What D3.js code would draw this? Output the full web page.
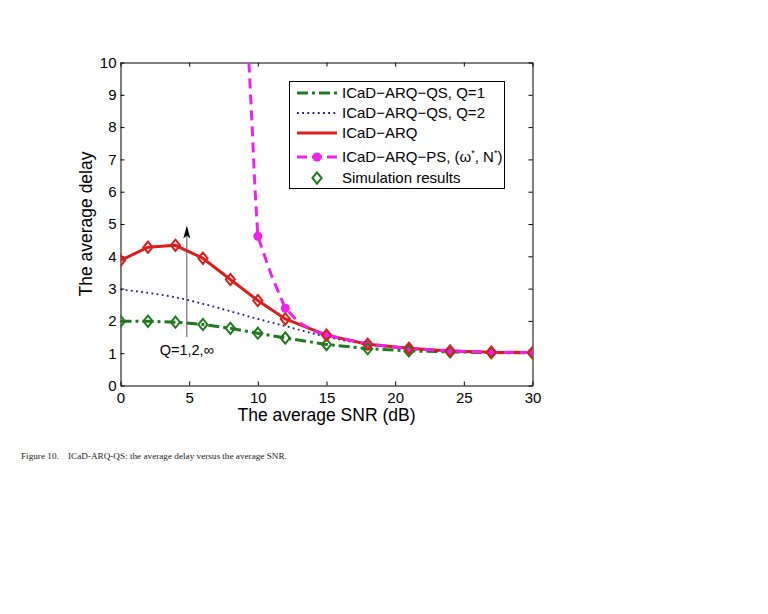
<!DOCTYPE html>
<html><head><meta charset="utf-8">
<script src="https://cdn.jsdelivr.net/npm/d3@7"></script>
<style>body{margin:0;background:#fff;}svg{display:block;font-family:"Liberation Sans",Arial,sans-serif;}</style>
</head><body>
<svg id="c" width="768" height="614"></svg>
<script>
// ---- data ----
const xTicks = [0,5,10,15,20,25,30];
const yTicks = [0,1,2,3,4,5,6,7,8,9,10];
const snr = [0,2,4,6,8,10,12,15,18,21,24,27,30];
const delayICaD = [3.87,4.28,4.34,3.94,3.28,2.63,2.06,1.56,1.28,1.15,1.07,1.03,1.02];
const delayQ1 = [1.99,1.99,1.96,1.89,1.77,1.62,1.47,1.27,1.14,1.07,1.04,1.02,1.01];
const snrQ2 = [0,2,4,6,8,10,12,14,16,18,20,22,24,27,30];
const delayQ2 = [2.97,2.87,2.73,2.53,2.30,2.06,1.84,1.61,1.42,1.27,1.17,1.10,1.06,1.03,1.01];
const snrPS = [9.35,9.57,9.79,10,11,12,13,14,15,18,21,24,27,30];
const delayPS = [10,8.15,6.1,4.62,3.4,2.39,1.95,1.7,1.56,1.28,1.15,1.07,1.03,1.02];
const snrPSMarkers = [10,12,15,18,21,24,27,30];
const legendLabels = ["ICaD\u2212ARQ\u2212QS, Q=1","ICaD\u2212ARQ\u2212QS, Q=2","ICaD\u2212ARQ","ICaD\u2212ARQ\u2212PS, (","Simulation results"];
const annotation = {snr:4.83, from:1.5, to:4.95, text:"Q=1,2,\u221E"};
const caption = "Figure 10.\u00A0\u00A0\u00A0\u00A0ICaD-ARQ-QS: the average delay versus the average SNR.";

// ---- styles ----
const GREEN = "#1f7a1f", RED = "#dd1c1c", MAG = "#ee22ee", BLUE = "#1a1a80";

const svg = d3.select("#c");
const x = d3.scaleLinear([0,30],[120.5,532.5]);
const y = d3.scaleLinear([0,10],[385.5,62.5]);

// axes (MATLAB style: inward ticks, full box)
const fs = "15px";
const ax = (g)=>{g.selectAll("text").attr("font-size",fs).attr("fill","#000").attr("font-family","Liberation Sans, Arial, sans-serif");
  g.selectAll("path,line").attr("stroke","#000");};
svg.append("g").attr("transform",`translate(0,${y(0)})`)
  .call(d3.axisBottom(x).tickValues(xTicks).tickSize(-4).tickSizeOuter(0).tickPadding(7)).call(ax);
svg.append("g").attr("transform",`translate(${x(0)},0)`)
  .call(d3.axisLeft(y).tickValues(yTicks).tickSize(-4).tickSizeOuter(0).tickPadding(4)).call(ax);
svg.append("g").attr("transform",`translate(0,${y(10)})`)
  .call(d3.axisTop(x).tickValues(xTicks).tickSize(-4).tickSizeOuter(0).tickFormat("")).call(ax);
svg.append("g").attr("transform",`translate(${x(30)},0)`)
  .call(d3.axisRight(y).tickValues(yTicks).tickSize(-4).tickSizeOuter(0).tickFormat("")).call(ax);
svg.selectAll(".domain").attr("stroke-width",1);

// axis labels
svg.append("text").attr("x",(x(0)+x(30))/2).attr("y",421).attr("text-anchor","middle")
  .attr("font-size","17.5px").text("The average SNR (dB)");
svg.append("text").attr("transform",`translate(92,${(y(0)+y(10))/2}) rotate(-90)`).attr("text-anchor","middle")
  .attr("font-size","17.5px").text("The average delay");

svg.append("defs").append("clipPath").attr("id","clip").append("rect")
  .attr("x",x(0)).attr("y",y(10)).attr("width",x(30)-x(0)).attr("height",y(0)-y(10));
const plot = svg.append("g").attr("clip-path","url(#clip)");

const line = d3.line().x(d=>x(d[0])).y(d=>y(d[1]));
const zip = (a,b)=>a.map((v,i)=>[v,b[i]]);
const curve = d3.line().x(d=>x(d[0])).y(d=>y(d[1])).curve(d3.curveMonotoneX);

plot.append("path").datum(zip(snr,delayQ1)).attr("d",line).attr("fill","none")
  .attr("stroke",GREEN).attr("stroke-width",3).attr("stroke-dasharray","11,4,3,4");
plot.append("path").datum(zip(snrQ2,delayQ2)).attr("d",curve).attr("fill","none")
  .attr("stroke",BLUE).attr("stroke-width",1.8).attr("stroke-dasharray","1.8,3.4");
plot.append("path").datum(zip(snr,delayICaD)).attr("d",line).attr("fill","none")
  .attr("stroke",RED).attr("stroke-width",3);
plot.append("path").datum(zip(snrPS,delayPS)).attr("d",line).attr("fill","none")
  .attr("stroke",MAG).attr("stroke-width",3).attr("stroke-dasharray","10,6");

const psPts = zip(snrPS,delayPS).filter(d=>snrPSMarkers.includes(d[0]));
plot.selectAll("circle.ps").data(psPts).join("circle").attr("class","ps")
  .attr("cx",d=>x(d[0])).attr("cy",d=>y(d[1])).attr("r",4.5).attr("fill",MAG);

const diamond = {draw(ctx,size){const w=4.6,h=5.6;ctx.moveTo(0,-h);ctx.lineTo(w,0);ctx.lineTo(0,h);ctx.lineTo(-w,0);ctx.closePath();}};
const sym = d3.symbol().type(diamond);
plot.selectAll("path.dq").data(zip(snr,delayQ1)).join("path").attr("class","dq")
  .attr("transform",d=>`translate(${x(d[0])},${y(d[1])})`).attr("d",sym).attr("fill","none")
  .attr("stroke",GREEN).attr("stroke-width",2);
plot.selectAll("path.dr").data(zip(snr,delayICaD)).join("path").attr("class","dr")
  .attr("transform",d=>`translate(${x(d[0])},${y(d[1])})`).attr("d",sym).attr("fill","none")
  .attr("stroke",RED).attr("stroke-width",2);

// annotation arrow
const ax0 = x(annotation.snr);
svg.append("line").attr("x1",ax0).attr("x2",ax0).attr("y1",y(annotation.from)).attr("y2",y(annotation.to)+8)
  .attr("stroke","#555").attr("stroke-width",1);
svg.append("path").attr("d",`M${ax0},${y(annotation.to)} L${ax0+3.5},${y(annotation.to)+13} L${ax0},${y(annotation.to)+10} L${ax0-3.5},${y(annotation.to)+13} Z`).attr("fill","#000");
svg.append("text").attr("x",ax0).attr("y",y(annotation.from)+18).attr("text-anchor","middle")
  .attr("font-size","14.5px").text(annotation.text);

// legend
const lg = svg.append("g");
lg.append("rect").attr("x",289.5).attr("y",81.5).attr("width",215).attr("height",107).attr("fill","#fff").attr("stroke","#000");
const rows = [93,113,133,157,178];
const lx0=297, lx1=337, tx=342;
lg.append("line").attr("x1",lx0).attr("x2",lx1).attr("y1",rows[0]).attr("y2",rows[0]).attr("stroke",GREEN).attr("stroke-width",3).attr("stroke-dasharray","11,4,3,4");
lg.append("line").attr("x1",lx0).attr("x2",lx1).attr("y1",rows[1]).attr("y2",rows[1]).attr("stroke",BLUE).attr("stroke-width",1.8).attr("stroke-dasharray","1.8,3.4");
lg.append("line").attr("x1",lx0).attr("x2",lx1).attr("y1",rows[2]).attr("y2",rows[2]).attr("stroke",RED).attr("stroke-width",3);
lg.append("line").attr("x1",lx0).attr("x2",lx1).attr("y1",rows[3]).attr("y2",rows[3]).attr("stroke",MAG).attr("stroke-width",3).attr("stroke-dasharray","10,5");
lg.append("circle").attr("cx",(lx0+lx1)/2).attr("cy",rows[3]).attr("r",4.5).attr("fill",MAG);
lg.append("path").attr("transform",`translate(${(lx0+lx1)/2},${rows[4]})`).attr("d",sym).attr("fill","none").attr("stroke",GREEN).attr("stroke-width",2);
rows.forEach((r,i)=>{
  const t = lg.append("text").attr("x",tx).attr("y",r+5).attr("font-size","15px");
  if(i===3){
    t.text(legendLabels[3]);
    t.append("tspan").text("\u03C9");
    t.append("tspan").attr("dy",-6).attr("font-size","9px").text("*");
    t.append("tspan").attr("dy",6).text(", N");
    t.append("tspan").attr("dy",-6).attr("font-size","9px").text("*");
    t.append("tspan").attr("dy",6).text(")");
  } else t.text(legendLabels[i]);
});

// caption
svg.append("text").attr("x",21).attr("y",459).attr("font-family","Liberation Serif, Times New Roman, serif")
  .attr("font-size","9.2px").attr("fill","#222").text(caption);
</script>
</body></html>
